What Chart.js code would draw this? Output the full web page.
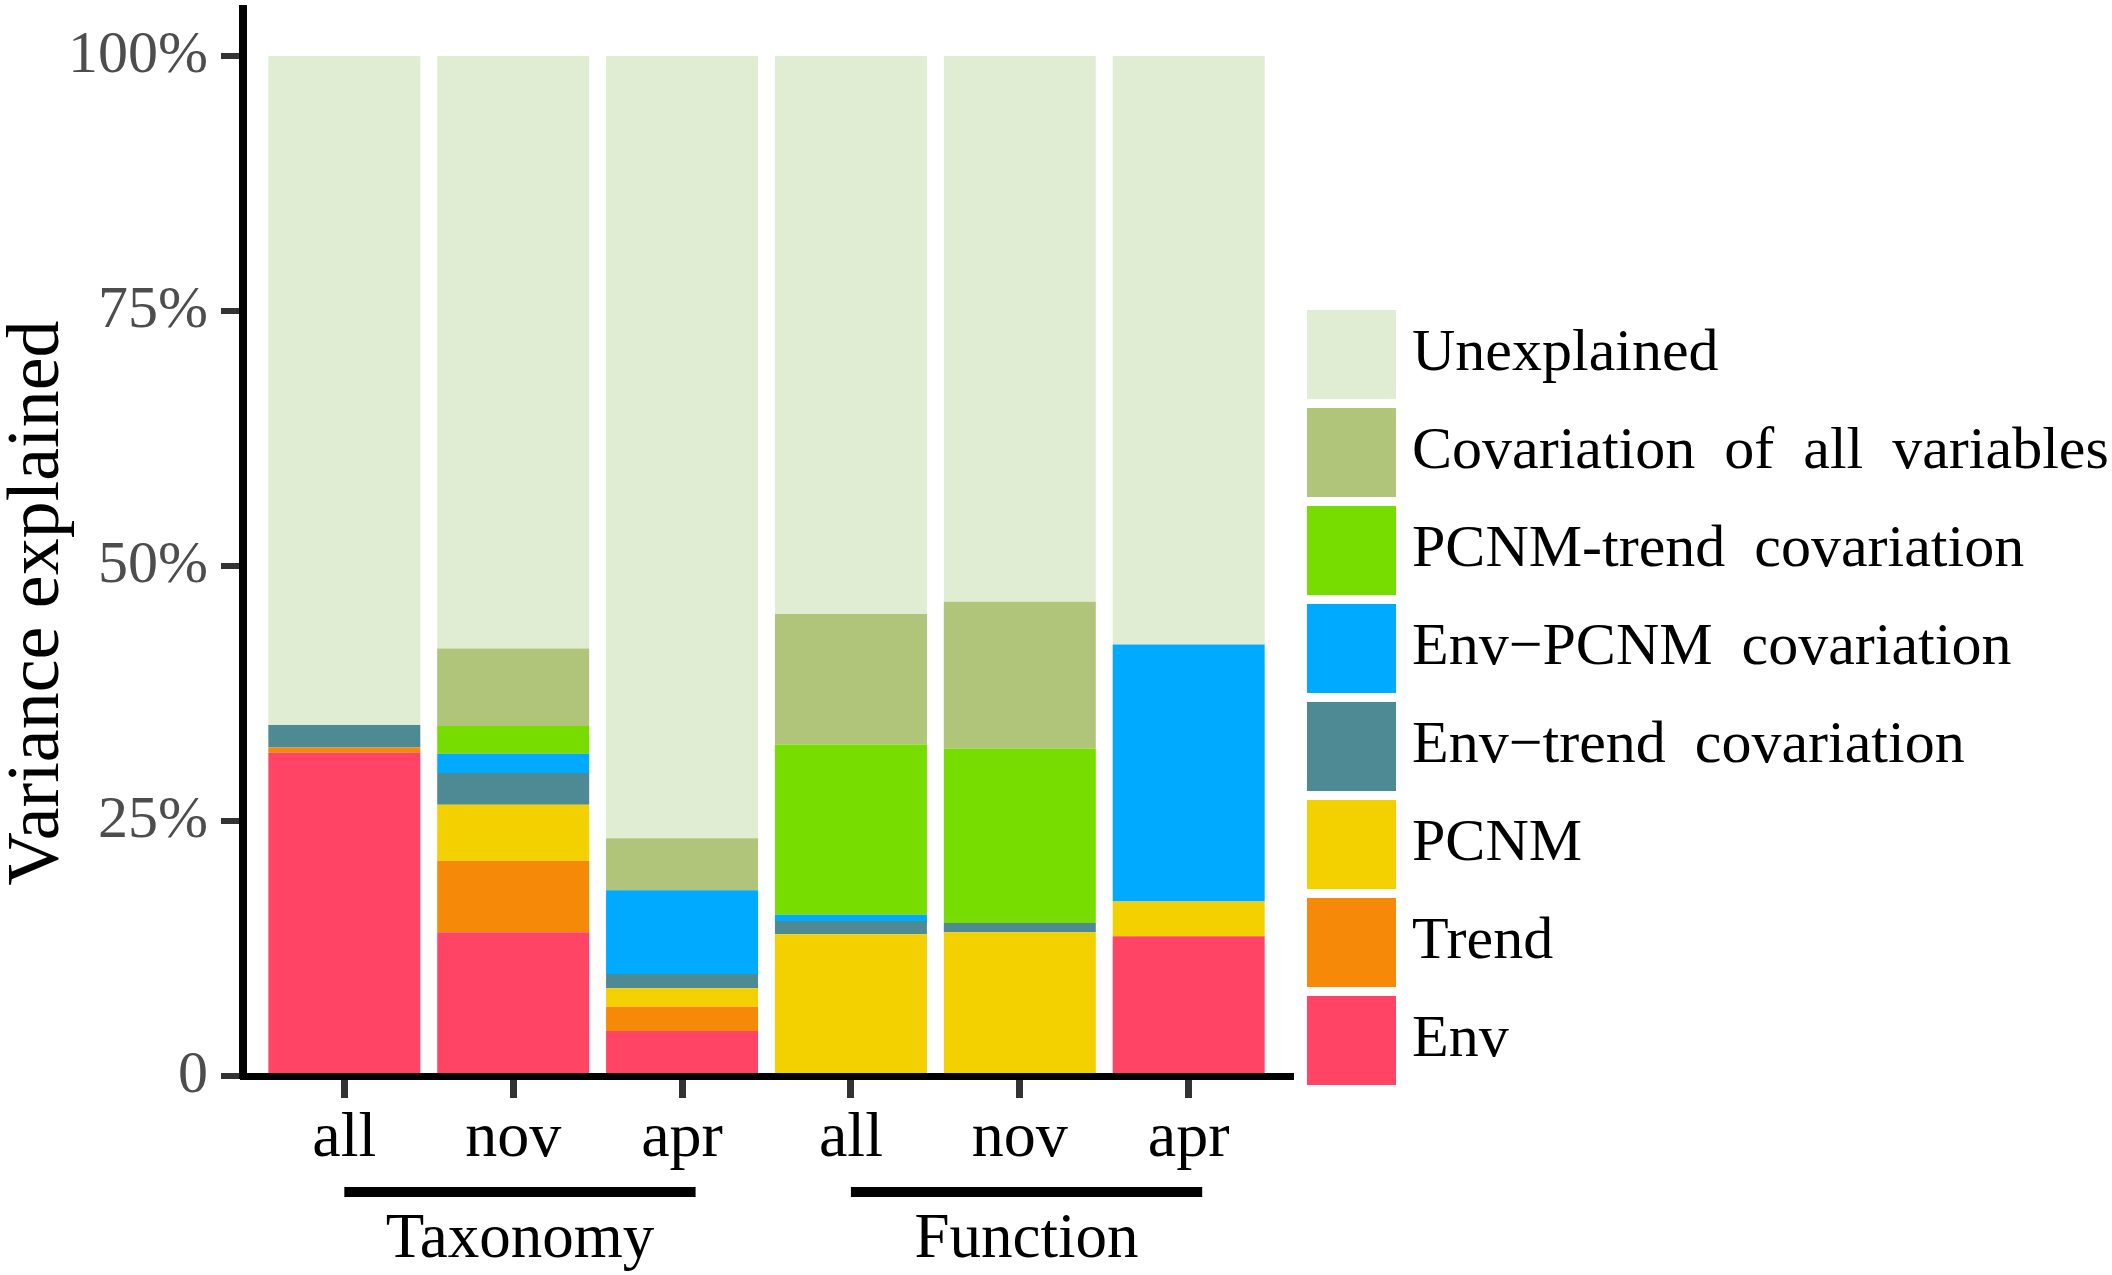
<!DOCTYPE html>
<html>
<head>
<meta charset="utf-8">
<title>Variance partitioning</title>
<script src="https://cdn.jsdelivr.net/npm/chart.js@4.4.1/dist/chart.umd.min.js"></script>
<style>
  html, body { margin: 0; padding: 0; background: #ffffff; }
  canvas { display: block; }
</style>
</head>
<body>
<canvas id="myChart" width="2112" height="1275"></canvas>
<script>
// categories along x, and the two groups they belong to
const categories = ["all", "nov", "apr", "all", "nov", "apr"];
const groupNames = ["Taxonomy", "Function"];
const groupFrom = [0, 3];
const groupTo = [2, 5];

// y ticks
const yTicks = [0, 25, 50, 75, 100];
const yTickLabels = ["0", "25%", "50%", "75%", "100%"];

// components, bottom of the stack first
const components = [
  "Env",
  "Trend",
  "PCNM",
  "Env\u2212trend covariation",
  "Env\u2212PCNM covariation",
  "PCNM-trend covariation",
  "Covariation of all variables",
  "Unexplained",
];

// % of variance, one value per category
const envValues        = [31.7, 14.1, 4.4, 0, 0, 13.7];
const trendValues      = [0.5, 7.0, 2.4, 0, 0, 0];
const pcnmValues       = [0, 5.5, 1.8, 13.9, 14.1, 3.4];
const envTrendValues   = [2.2, 3.1, 1.4, 1.3, 0.9, 0];
const envPcnmValues    = [0, 1.9, 8.2, 0.6, 0, 25.2];
const pcnmTrendValues  = [0, 2.7, 0, 16.7, 17.1, 0];
const allCovValues     = [0, 7.6, 5.1, 12.8, 14.4, 0];
const unexplainedValues = [65.6, 58.1, 76.7, 54.7, 53.5, 57.7];

const series = [envValues, trendValues, pcnmValues, envTrendValues,
  envPcnmValues, pcnmTrendValues, allCovValues, unexplainedValues];

const colors = ["#FF4466", "#F68A08", "#F3D000", "#4E8A94",
  "#00AAFF", "#77DD00", "#B0C47A", "#E0EDD3"];

const FONT = "Liberation Serif";

const datasets = components.map((label, i) => ({
  label: label,
  data: series[i].map((v, j) => ({ x: j, y: v })),
  backgroundColor: colors[i],
  borderWidth: 0,
  barPercentage: 0.9,
  categoryPercentage: 1,
}));

// legend, group bars and y title drawn on top of the chart
const decorations = {
  id: "decorations",
  afterDraw(chart) {
    const ctx = chart.ctx;
    const x = chart.scales.x;
    ctx.save();

    // y title
    ctx.save();
    ctx.translate(58, 603);
    ctx.rotate(-Math.PI / 2);
    ctx.font = "74px '" + FONT + "'";
    ctx.fillStyle = "#000";
    ctx.textAlign = "center";
    ctx.textBaseline = "alphabetic";
    ctx.fillText("Variance explained", 0, 0);
    ctx.restore();

    // group lines and names
    ctx.fillStyle = "#000";
    ctx.font = "63px '" + FONT + "'";
    ctx.textAlign = "center";
    ctx.textBaseline = "alphabetic";
    groupNames.forEach((name, g) => {
      const x0 = x.getPixelForValue(groupFrom[g]);
      const x1 = x.getPixelForValue(groupTo[g] + 0.08);
      ctx.fillRect(x0, 1187, x1 - x0, 10);
      ctx.fillText(name, (x0 + x1) / 2, 1257);
    });

    // legend, top item = last component
    ctx.font = "60px '" + FONT + "'";
    ctx.textAlign = "left";
    if ("wordSpacing" in ctx) ctx.wordSpacing = "14px";
    for (let k = 0; k < components.length; k++) {
      const i = components.length - 1 - k;
      const top = 310 + k * 98;
      ctx.fillStyle = colors[i];
      ctx.fillRect(1307, top, 89, 89);
      ctx.fillStyle = "#000";
      ctx.fillText(components[i], 1412, top + 60);
    }
    ctx.restore();
  },
};

Chart.defaults.font.family = FONT;

const config = {
  type: "bar",
  data: { datasets: datasets },
  options: {
    responsive: false,
    devicePixelRatio: 1,
    animation: false,
    layout: { padding: { left: 0, top: 9, right: 822, bottom: 0 } },
    plugins: {
      legend: { display: false },
      tooltip: { enabled: false },
    },
    scales: {
      x: {
        type: "linear",
        min: -0.6,
        max: 5.6,
        offset: false,
        stacked: true,
        z: 1,
        afterBuildTicks: (s) => { s.ticks = categories.map((c, i) => ({ value: i })); },
        afterFit: (s) => {
          s.height = 199;
          s.paddingLeft = 0;
          s.paddingRight = 0;
        },
        ticks: {
          callback: (v) => categories[v],
          autoSkip: false,
          maxRotation: 0,
          padding: 3,
          color: "#000",
          font: { size: 64, lineHeight: 1.2 },
        },
        grid: {
          offset: false,
          drawOnChartArea: false,
          drawTicks: true,
          tickLength: 22,
          tickColor: "#333333",
          tickWidth: 7,
          lineWidth: 7,
        },
        border: { display: true, color: "#000", width: 7 },
      },
      y: {
        min: 0,
        max: 104.6,
        stacked: true,
        z: 1,
        afterBuildTicks: (s) => { s.ticks = yTicks.map((v) => ({ value: v })); },
        afterFit: (s) => {
          s.width = 243;
          s.paddingTop = 0;
          s.paddingBottom = 0;
        },
        ticks: {
          callback: (v) => yTickLabels[yTicks.indexOf(v)],
          padding: 13,
          color: "#4D4D4D",
          font: { size: 60 },
        },
        grid: {
          drawOnChartArea: false,
          drawTicks: true,
          tickLength: 22,
          tickColor: "#333333",
          tickWidth: 6,
          lineWidth: 6,
        },
        border: { display: true, color: "#000", width: 8 },
      },
    },
  },
  plugins: [decorations],
};

const myChart = new Chart(document.getElementById("myChart"), config);
</script>
</body>
</html>
